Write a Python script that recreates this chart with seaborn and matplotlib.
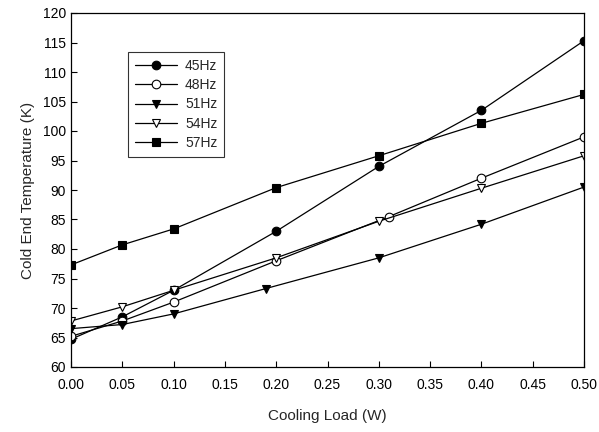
import matplotlib
matplotlib.use("Agg")
import matplotlib.pyplot as plt
import seaborn as sns
import pandas as pd

series = ["45Hz", "48Hz", "51Hz", "54Hz", "57Hz"]
x_45 = [0.0, 0.05, 0.10, 0.20, 0.30, 0.40, 0.50]
y_45 = [64.7, 68.5, 73.0, 83.0, 94.0, 103.5, 115.3]
x_48 = [0.0, 0.05, 0.10, 0.20, 0.31, 0.40, 0.50]
y_48 = [65.2, 67.8, 71.0, 78.0, 85.5, 92.0, 99.0]
x_51 = [0.0, 0.05, 0.10, 0.19, 0.30, 0.40, 0.50]
y_51 = [66.5, 67.2, 69.0, 73.3, 78.5, 84.2, 90.5]
x_54 = [0.0, 0.05, 0.10, 0.20, 0.30, 0.40, 0.50]
y_54 = [67.8, 70.2, 73.0, 78.5, 84.7, 90.3, 95.8]
x_57 = [0.0, 0.05, 0.10, 0.20, 0.30, 0.40, 0.50]
y_57 = [77.3, 80.7, 83.4, 90.4, 95.8, 101.3, 106.2]

xs = [x_45, x_48, x_51, x_54, x_57]
ys = [y_45, y_48, y_51, y_54, y_57]
markers = ["o", "o", "v", "v", "s"]
faces = ["black", "white", "black", "white", "black"]

sns.set_style("ticks")
plt.rcParams["font.family"] = ["Liberation Sans", "DejaVu Sans"]

fig = plt.figure(figsize=(5.99, 4.32), dpi=100)
ax = fig.add_axes([71/599, 1-367/432, (584-71)/599, (367-13)/432])

for name, x, y, m, fc in zip(series, xs, ys, markers, faces):
    df = pd.DataFrame({"x": x, "y": y})
    sns.lineplot(data=df, x="x", y="y", ax=ax, color="black", lw=0.9,
                 marker=m, markersize=6.2 if m != "s" else 5.6, markerfacecolor=fc,
                 markeredgecolor="black", markeredgewidth=0.8, label=name,
                 estimator=None, sort=False)

ax.set_xlim(0, 0.5)
ax.set_ylim(60, 120)
ax.set_xticks([i * 0.05 for i in range(11)])
ax.set_xticklabels([f"{i*0.05:.2f}" for i in range(11)])
ax.set_yticks(range(60, 121, 5))
ax.tick_params(direction="in", length=4, width=0.8, labelsize=10, colors="black")
ax.tick_params(axis="x", pad=8)
for s in ax.spines.values():
    s.set_linewidth(0.9)
    s.set_color("black")
ax.set_xlabel("Cooling Load (W)", fontsize=11, labelpad=12)
ax.set_ylabel("Cold End Temperature (K)", fontsize=11, labelpad=6)

leg = ax.legend(loc="upper left", bbox_to_anchor=(57/513, 1-39/354), frameon=True,
                fancybox=False, edgecolor="black", fontsize=10, handlelength=3,
                borderpad=0.5, labelspacing=0.38, borderaxespad=0, handletextpad=0.6)
leg.get_frame().set_linewidth(0.8)

fig.savefig("out.png", dpi=100)
